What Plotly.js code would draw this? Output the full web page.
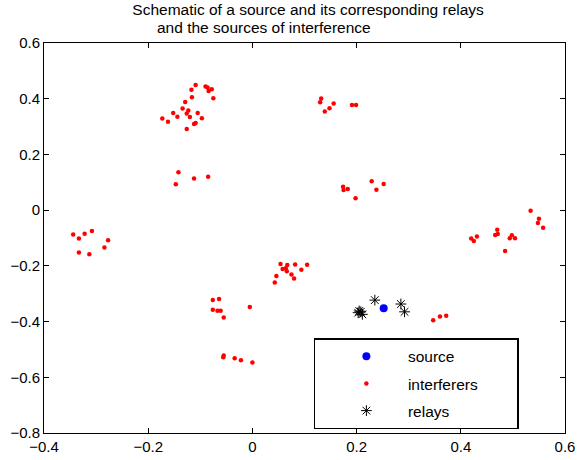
<!DOCTYPE html>
<html>
<head>
<meta charset="utf-8">
<script src="https://cdn.plot.ly/plotly-3.0.1.min.js"></script>
<style>html,body{margin:0;padding:0;background:#fff;}#chart{width:578px;height:460px;}</style>
</head>
<body>
<div id="chart"></div>
<script>
// Source position
var sourceX = [0.252];
var sourceY = [-0.352];

// Interferer positions
var interferersX = [
  -0.109,-0.090,-0.086,-0.078,-0.084,-0.117,-0.075,-0.116,-0.129,-0.134,-0.123,
  -0.152,-0.126,-0.105,-0.144,-0.120,-0.173,-0.097,-0.162,-0.109,-0.112,-0.126,
  -0.142,-0.085,-0.112,-0.147,
  -0.344,-0.333,-0.322,-0.308,-0.277,-0.284,-0.333,-0.313,
  0.054,0.067,0.082,0.105,0.058,0.064,0.066,0.094,0.075,0.046,0.080,0.043,
  -0.076,-0.064,-0.076,-0.067,-0.061,-0.055,-0.005,
  -0.055,-0.056,-0.034,-0.022,0.000,
  0.132,0.130,0.156,0.148,0.139,0.191,0.199,
  0.229,0.252,0.238,0.174,0.183,0.175,0.198,
  0.534,0.550,0.548,0.558,
  0.420,0.425,0.431,0.470,0.466,0.471,0.498,0.494,0.504,0.485,
  0.347,0.360,0.372
];
var interferersY = [
  0.449,0.444,0.440,0.434,0.428,0.432,0.402,0.405,0.388,0.365,0.358,
  0.349,0.347,0.349,0.335,0.334,0.329,0.330,0.317,0.313,0.309,0.291,
  0.136,0.120,0.114,0.093,
  -0.087,-0.102,-0.085,-0.075,-0.108,-0.134,-0.152,-0.158,
  -0.193,-0.197,-0.195,-0.196,-0.211,-0.209,-0.219,-0.214,-0.231,-0.236,-0.245,-0.260,
  -0.323,-0.319,-0.358,-0.361,-0.361,-0.385,-0.348,
  -0.522,-0.528,-0.532,-0.539,-0.547,
  0.401,0.387,0.383,0.366,0.354,0.377,0.377,
  0.104,0.094,0.073,0.084,0.076,0.072,0.043,
  -0.002,-0.031,-0.046,-0.063,
  -0.102,-0.111,-0.095,-0.070,-0.089,-0.086,-0.090,-0.101,-0.101,-0.147,
  -0.395,-0.382,-0.379
];

// Relay positions
var relaysX = [0.235, 0.205, 0.211, 0.203, 0.208, 0.285, 0.292];
var relaysY = [-0.323, -0.362, -0.374, -0.368, -0.365, -0.337, -0.365];

// Axis ticks
var xTicks = [-0.4, -0.2, 0, 0.2, 0.4, 0.6];
var yTicks = [-0.8, -0.6, -0.4, -0.2, 0, 0.2, 0.4, 0.6];

// Title lines
var titleLine1 = 'Schematic of a source and its corresponding relays';
var titleLine2 = 'and the sources of interference';

var NB = '\u00a0';
function pad(n){ return NB.repeat(n); }

var FONT = '"Liberation Sans", Arial, Helvetica, sans-serif';

var traces = [
  {
    x: sourceX, y: sourceY, mode: 'markers', type: 'scatter',
    name: pad(5) + 'source',
    legendgroup: 'a',
    marker: {color: '#0000ff', size: 8, symbol: 'circle'}
  },
  {
    x: interferersX, y: interferersY, mode: 'markers', type: 'scatter',
    name: pad(5) + 'interferers' + pad(8),
    legendgroup: 'b',
    marker: {color: '#ff0000', size: 4.5, symbol: 'circle'}
  },
  {
    x: relaysX, y: relaysY, mode: 'markers', type: 'scatter',
    name: pad(5) + 'relays',
    legendgroup: 'c',
    marker: {color: '#000000', size: 9, symbol: 'asterisk-open', line: {color: '#000000', width: 1}}
  }
];

var axisCommon = {
  showgrid: false, zeroline: false,
  showline: true, linecolor: '#000', linewidth: 1, mirror: 'ticks',
  ticks: 'inside', ticklen: 5, tickcolor: '#000', tickwidth: 1,
  tickfont: {family: FONT, size: 15, color: '#000'}
};

var layout = {
  width: 578, height: 460,
  paper_bgcolor: '#fff', plot_bgcolor: '#fff',
  margin: {l: 44, r: 13, t: 43, b: 27, pad: 0},
  title: {
    text: titleLine1,
    font: {family: FONT, size: 15.5, color: '#000'},
    x: 0.533, xref: 'container', xanchor: 'center',
    y: 0.980, yref: 'container', yanchor: 'middle',
    automargin: false
  },
  annotations: [{
    text: titleLine2,
    font: {family: FONT, size: 15.5, color: '#000'},
    xref: 'paper', yref: 'paper', x: 0.4223, y: 1.041,
    xanchor: 'center', yanchor: 'middle', showarrow: false
  }],
  xaxis: Object.assign({}, axisCommon, {range: [-0.4, 0.6], tickvals: xTicks}),
  yaxis: Object.assign({}, axisCommon, {range: [-0.8, 0.6], tickvals: yTicks}),
  showlegend: true,
  legend: {
    x: 0.518, xanchor: 'left', y: 0.243, yanchor: 'top',
    bgcolor: '#fff', bordercolor: '#000', borderwidth: 1.5,
    font: {family: FONT, size: 15.5, color: '#000'},
    traceorder: 'grouped', tracegroupgap: 4,
    indentation: 31
  }
};

Plotly.newPlot('chart', traces, layout, {displayModeBar: false, staticPlot: true});
</script>
</body>
</html>
